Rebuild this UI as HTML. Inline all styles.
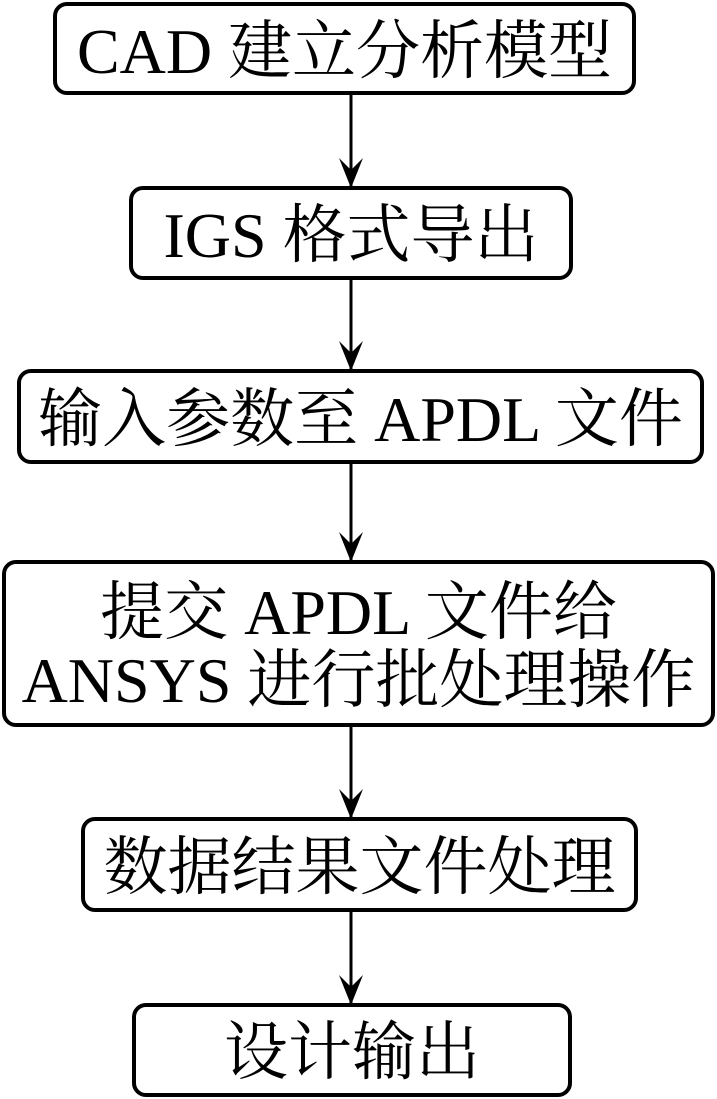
<!DOCTYPE html>
<html><head><meta charset="utf-8"><style>
body{margin:0;background:#fff;width:717px;height:1099px;overflow:hidden;position:relative}
.b{position:absolute;border:4px solid #000;border-radius:14px;box-sizing:border-box;display:flex;align-items:center;justify-content:center;text-align:center;font-family:"Liberation Serif","Noto Serif CJK SC",serif;font-size:64px;line-height:68px;color:#000;white-space:nowrap;padding-top:6px}
svg{position:absolute;left:0;top:0}
</style></head><body>
<svg width="717" height="1099">
<g stroke="#000" stroke-width="3" fill="none">
<line x1="351" y1="94" x2="351" y2="186"/>
<line x1="351" y1="278" x2="351" y2="369"/>
<line x1="351" y1="463" x2="351" y2="560"/>
<line x1="351" y1="726" x2="351" y2="817"/>
<line x1="351" y1="911" x2="351" y2="1003"/>
</g>
<g fill="#000">
<path d="M351 188 L339 158 L351 170 L363 158 Z"/>
<path d="M351 371 L339 341 L351 353 L363 341 Z"/>
<path d="M351 562 L339 532 L351 544 L363 532 Z"/>
<path d="M351 819 L339 789 L351 801 L363 789 Z"/>
<path d="M351 1005 L339 975 L351 987 L363 975 Z"/>
</g>
</svg>
<div class="b" style="left:53px;top:2px;width:583px;height:93px">CAD 建立分析模型</div>
<div class="b" style="left:129px;top:186px;width:444px;height:94px">IGS 格式导出</div>
<div class="b" style="left:17px;top:369px;width:687px;height:95px">输入参数至 APDL 文件</div>
<div class="b" style="left:2px;top:560px;width:713px;height:167px">提交 APDL 文件给<br>ANSYS 进行批处理操作</div>
<div class="b" style="left:81px;top:817px;width:557px;height:95px">数据结果文件处理</div>
<div class="b" style="left:132px;top:1003px;width:440px;height:94px">设计输出</div>
</body></html>
